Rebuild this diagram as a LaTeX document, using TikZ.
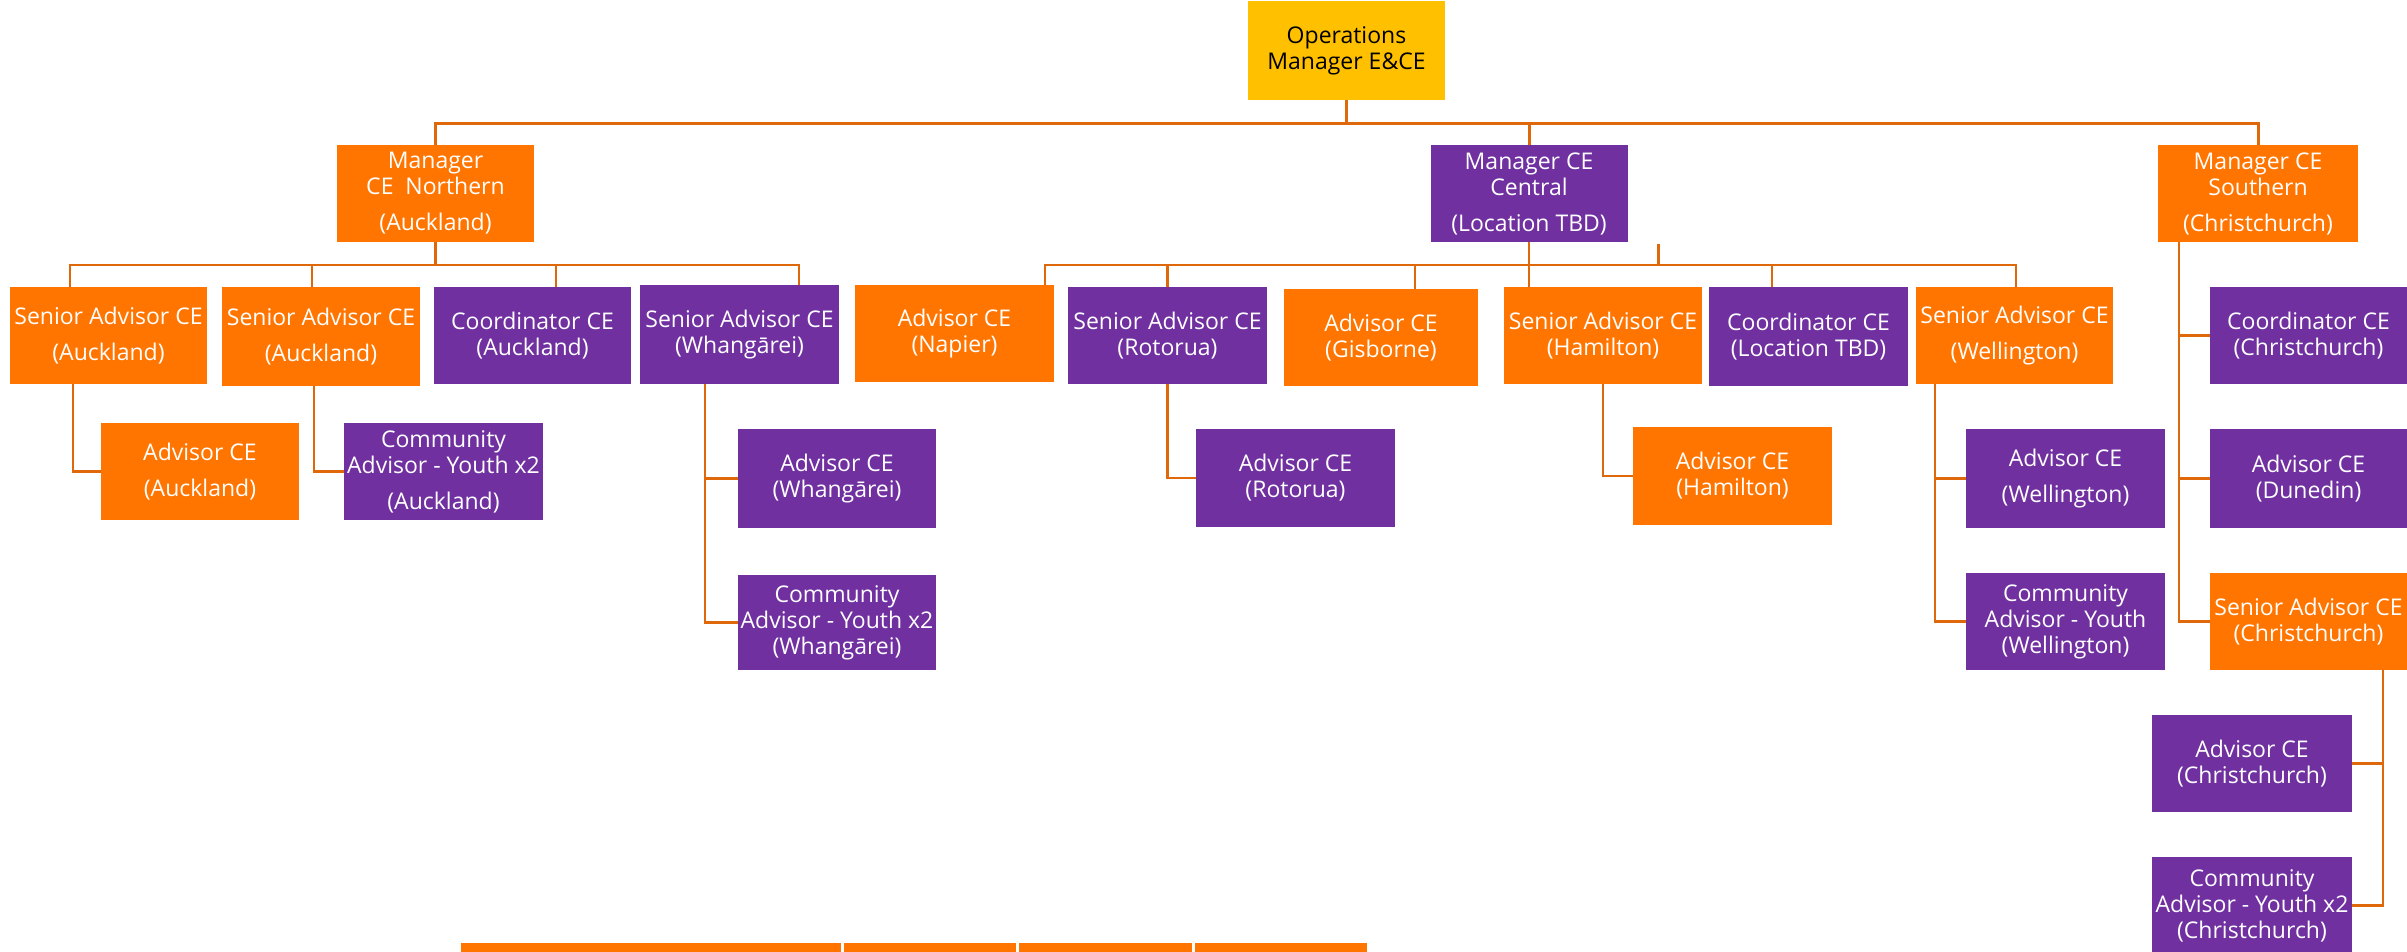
\documentclass[tikz,border=0pt]{standalone}
\usepackage{fontspec}
\setmainfont{Open Sans}
\usetikzlibrary{calc}
\definecolor{orgOrange}{RGB}{255,117,0}
\definecolor{orgPurple}{RGB}{112,48,160}
\definecolor{orgGold}{RGB}{255,192,0}
\definecolor{orgLine}{RGB}{222,104,10}
\begin{document}
\begin{tikzpicture}[x=1pt, y=-1pt,
   role/.style={rectangle, minimum width=197pt, minimum height=97pt, inner sep=0pt,
                align=center, text=white, font=\fontsize{23pt}{26pt}\selectfont},
   orangerole/.style={role, fill=orgOrange},
   purplerole/.style={role, fill=orgPurple},
   link/.style={draw=orgLine, line width=2.5pt}]
  \useasboundingbox (0,0) rectangle (2407,951);
  \clip (0,0) rectangle (2407,951);

  % top and managers
  \node (opm) [role, fill=orgGold, text=black, minimum height=99pt] at (1346.5,50.5) {Operations\\Manager E\&CE};
  \node (mgrN) [orangerole] at (435.5,193.5) {Manager\\CE~~Northern\\[10pt](Auckland)};
  \node (mgrC) [purplerole] at (1529,193.5) {Manager CE\\Central\\[10pt](Location TBD)};
  \node (mgrS) [orangerole, minimum width=200pt] at (2258,193.5) {Manager CE\\Southern\\[10pt](Christchurch)};

  % northern team
  \node (saA1) [orangerole] at (108.5,335.5) {Senior Advisor CE\\[10pt](Auckland)};
  \node (saA2) [orangerole, minimum width=198pt, minimum height=99pt] at (321,336.5) {Senior Advisor CE\\[10pt](Auckland)};
  \node (coA)  [purplerole] at (532.5,335.5) {Coordinator CE\\(Auckland)};
  \node (saW)  [purplerole, minimum width=199pt, minimum height=99pt] at (739.5,334.5) {Senior Advisor CE\\(Whangārei)};
  \node (adA)  [orangerole, minimum width=198pt] at (200,471.5) {Advisor CE\\[10pt](Auckland)};
  \node (cyA)  [purplerole, minimum width=199pt] at (443.5,471.5) {Community\\Advisor - Youth x2\\[10pt](Auckland)};
  \node (adW)  [purplerole, minimum width=198pt, minimum height=99pt] at (837,478.5) {Advisor CE\\(Whangārei)};
  \node (cyW)  [purplerole, minimum width=198pt, minimum height=95pt] at (837,622.5) {Community\\Advisor - Youth x2\\(Whangārei)};

  % central team
  \node (adN)  [orangerole, minimum width=199pt] at (954.5,333.5) {Advisor CE\\(Napier)};
  \node (saR)  [purplerole, minimum width=199pt] at (1167.5,335.5) {Senior Advisor CE\\(Rotorua)};
  \node (adG)  [orangerole, minimum width=194pt] at (1381,337.5) {Advisor CE\\(Gisborne)};
  \node (saH)  [orangerole, minimum width=198pt] at (1603,335.5) {Senior Advisor CE\\(Hamilton)};
  \node (coL)  [purplerole, minimum width=199pt, minimum height=99pt] at (1808.5,336.5) {Coordinator CE\\(Location TBD)};
  \node (saWl) [orangerole] at (2014.5,335.5) {Senior Advisor CE\\[10pt](Wellington)};
  \node (adR)  [purplerole, minimum width=199pt, minimum height=98pt] at (1295.5,478) {Advisor CE\\(Rotorua)};
  \node (adH)  [orangerole, minimum width=199pt, minimum height=98pt] at (1732.5,476) {Advisor CE\\(Hamilton)};
  \node (adWl) [purplerole, minimum width=199pt, minimum height=99pt] at (2065.5,478.5) {Advisor CE\\[10pt](Wellington)};
  \node (cyWl) [purplerole, minimum width=199pt] at (2065.5,621.5) {Community\\Advisor - Youth\\(Wellington)};

  % southern team
  \node (coC)  [purplerole] at (2308.5,335.5) {Coordinator CE\\(Christchurch)};
  \node (adD)  [purplerole, minimum height=99pt] at (2308.5,478.5) {Advisor CE\\(Dunedin)};
  \node (saC)  [orangerole] at (2308.5,621.5) {Senior Advisor CE\\(Christchurch)};
  \node (adC)  [purplerole, minimum width=200pt] at (2252,763.5) {Advisor CE\\(Christchurch)};
  \node (cyC)  [purplerole, minimum width=200pt] at (2252,905.5) {Community\\Advisor - Youth x2\\(Christchurch)};

  % boxes cut off at the bottom
  \node (barA) [orangerole, minimum width=380pt, anchor=north west] at (461,943) {};
  \node (barB) [orangerole, minimum width=172pt, anchor=north west] at (844,943) {};
  \node (barC) [orangerole, minimum width=173pt, anchor=north west] at (1019,943) {};
  \node (barD) [orangerole, minimum width=172pt, anchor=north west] at (1195,943) {};

  % top bus
  \coordinate (busT) at (0,123);
  \draw[link, line width=3pt] (opm.south) -- (opm.south |- busT);
  \draw[link, line width=3pt] (mgrN.north) -- (mgrN.north |- busT) -- (mgrS.north |- busT) -- (mgrS.north);
  \draw[link, line width=3pt] (mgrC.north) -- (mgrC.north |- busT);

  % northern bus
  \coordinate (busN) at (0,265);
  \coordinate (dA1) at ($(saA1.north)+(-38.5,0)$);
  \coordinate (dA2) at ($(saA2.north)+(-9,0)$);
  \coordinate (dCo) at ($(coA.north)+(23.5,0)$);
  \coordinate (dW)  at ($(saW.north)+(59.5,0)$);
  \draw[link] (mgrN.south) -- (mgrN.south |- busN);
  \draw[link] (dA1) -- (dA1 |- busN) -- (dW |- busN) -- (dW);
  \draw[link] (dA2) -- (dA2 |- busN);
  \draw[link] (dCo) -- (dCo |- busN);

  % central bus
  \coordinate (dN)  at ($(adN.north)+(90.5,0)$);
  \coordinate (dG)  at ($(adG.north)+(34,0)$);
  \coordinate (dL)  at ($(coL.north)+(-36.5,0)$);
  \coordinate (dWl) at ($(saWl.north)+(1.5,0)$);
  \coordinate (tick) at ($(mgrC.south east)+(31,2)$);
  \draw[link] (mgrC.south) -- (mgrC.south |- busN) -- (mgrC.south |- saH.north);
  \draw[link] (dN) -- (dN |- busN) -- (dWl |- busN) -- (dWl);
  \draw[link] (saR.north) -- (saR.north |- busN);
  \draw[link] (dG) -- (dG |- busN);
  \draw[link] (dL) -- (dL |- busN);
  \draw[link] (tick) -- (tick |- busN);

  % southern line
  \coordinate (sS) at ($(mgrS.south west)+(21,0)$);
  \draw[link] (sS) |- (saC.west);
  \draw[link] (sS |- coC.west) -- (coC.west);
  \draw[link] (sS |- adD.west) -- (adD.west);

  % second level lines
  \draw[link] ($(saA1.south west)+(63,0)$) |- (adA.west);
  \draw[link] ($(saA2.south)+(-7,0)$) |- (cyA.west);
  \coordinate (sW) at ($(saW.south west)+(65,0)$);
  \draw[link] (sW) |- (cyW.west);
  \draw[link] (sW |- adW.west) -- (adW.west);
  \draw[link] (saR.south) |- (adR.west);
  \draw[link] (saH.south) |- (adH.west);
  \coordinate (sWl) at ($(saWl.south west)+(19,0)$);
  \draw[link] (sWl) |- (cyWl.west);
  \draw[link] (sWl |- adWl.west) -- (adWl.west);
  \coordinate (sC) at ($(saC.south east)+(-24,0)$);
  \draw[link] (sC) |- (cyC.east);
  \draw[link] (sC |- adC.east) -- (adC.east);
\end{tikzpicture}
\end{document}
